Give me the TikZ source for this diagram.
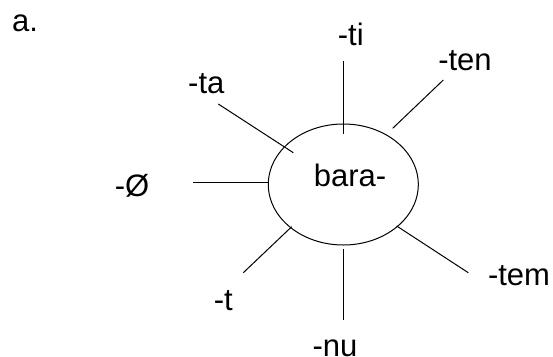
\documentclass[tikz,border=0pt]{standalone}
\usepackage{fontspec}
\setmainfont{Liberation Sans}
\usetikzlibrary{shapes.geometric}
\begin{document}
\begin{tikzpicture}[x=1pt,y=-1pt,
  lbl/.style={anchor=base,inner sep=0pt,font=\fontsize{31}{37}\selectfont},
  ray/.style={draw=black,line width=1pt}]
\useasboundingbox (0,0) rectangle (553,356);
\node[draw,line width=1pt,ellipse,minimum width=150pt,minimum height=121pt,inner sep=0pt] (root) at (343.3,184.5) {};
\node[lbl] (bara) at (350,186.7) {bara-};
\node[lbl,anchor=base west] (a) at (12,31.7) {a.};
\node[lbl] (ti) at (350.8,45.7) {-ti};
\node[lbl] (ten) at (465,70) {-ten};
\node[lbl] (ta) at (206.3,93.3) {-ta};
\node[lbl] (zero) at (132,196.7) {-Ø};
\node[lbl] (t) at (223.3,310) {-t};
\node[lbl] (nu) at (335,356.3) {-nu};
\node[lbl] (tem) at (519,285) {-tem};
% ray end points
\coordinate (ti1) at (343.3,61);   \coordinate (ti2) at (343.3,134);
\coordinate (ten1) at (443.3,80);  \coordinate (ten2) at (392.7,128.3);
\coordinate (ta1) at (218.3,104);  \coordinate (ta2) at (293.3,152.7);
\coordinate (z1) at (193.3,182);   \coordinate (z2) at (268.3,182);
\coordinate (t1) at (243.3,272.7); \coordinate (t2) at (291.7,226.7);
\coordinate (nu1) at (343.3,320);  \coordinate (nu2) at (343.3,249.3);
\coordinate (tem1) at (468.3,272.7); \coordinate (tem2) at (396.7,226);
\draw[ray] (ti1) -- (ti2);
\draw[ray] (ten1) -- (ten2);
\draw[ray] (ta1) -- (ta2);
\draw[ray] (z1) -- (z2);
\draw[ray] (t1) -- (t2);
\draw[ray] (nu1) -- (nu2);
\draw[ray] (tem1) -- (tem2);
\end{tikzpicture}
\end{document}
